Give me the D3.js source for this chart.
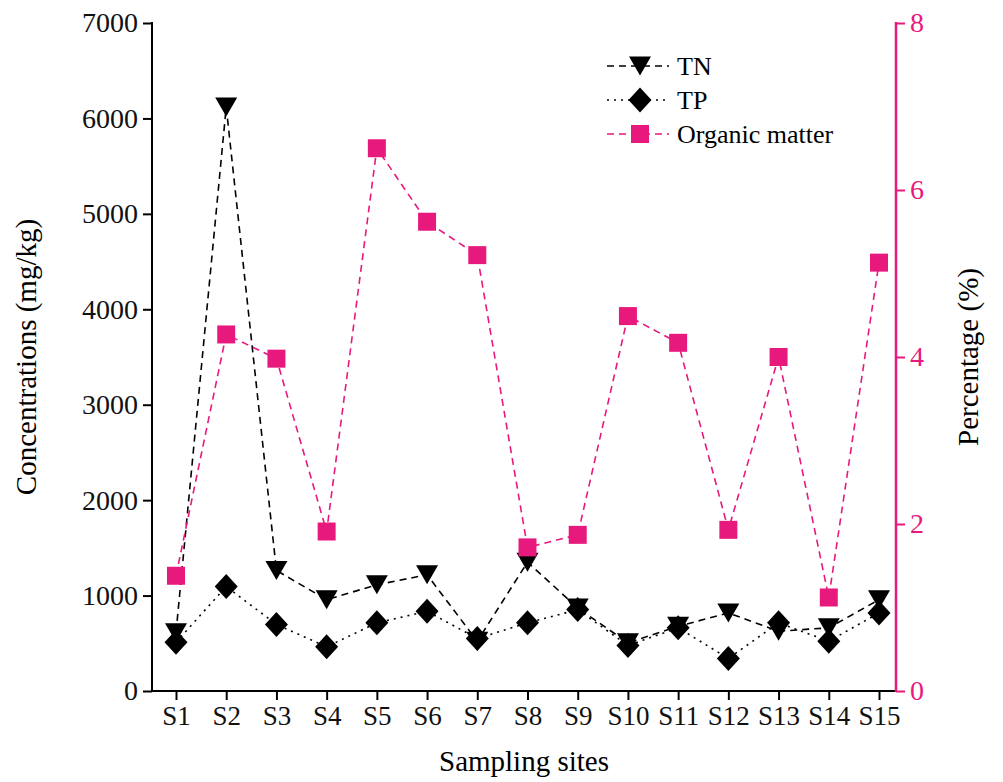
<!DOCTYPE html>
<html>
<head>
<meta charset="utf-8">
<script src="https://cdnjs.cloudflare.com/ajax/libs/d3/7.8.5/d3.min.js"></script>
<style>
  body { margin: 0; background: #fff; }
  svg, svg text { font-family: "Liberation Serif", "Times New Roman", serif; }
</style>
</head>
<body>
<div id="chart"></div>
<script>
// data
var sites = ["S1","S2","S3","S4","S5","S6","S7","S8","S9","S10","S11","S12","S13","S14","S15"];
var tn = [610, 6120, 1263, 957, 1113, 1218, 522, 1350, 870, 505, 678, 818, 626, 662, 957];
var tp = [510, 1095, 697, 463, 714, 835, 550, 714, 853, 477, 662, 341, 714, 522, 818];
var organic = [1.38, 4.27, 3.98, 1.91, 6.50, 5.62, 5.22, 1.72, 1.87, 4.49, 4.17, 1.93, 4.00, 1.12, 5.13];
var leftTicks = [0, 1000, 2000, 3000, 4000, 5000, 6000, 7000];
var rightTicks = [0, 2, 4, 6, 8];

var pink = "#e8197d";
var width = 1003, height = 782;
var plotLeft = 152, plotRight = 896, plotTop = 23, plotBottom = 691;

var svg = d3.select("#chart").append("svg")
    .attr("width", width)
    .attr("height", height);

var x = d3.scalePoint().domain(sites).range([176, 879]);
var yL = d3.scaleLinear().domain([0, 7000]).range([plotBottom, plotTop]);
var yR = d3.scaleLinear().domain([0, 8]).range([plotBottom, plotTop]);

// marker shapes
function triDown(w, h) {
    return "M" + (-w/2) + "," + (-h/2) + "L" + (w/2) + "," + (-h/2) + "L0," + (h/2) + "Z";
}
function diamond(w, h) {
    return "M0," + (-h/2) + "L" + (w/2) + ",0L0," + (h/2) + "L" + (-w/2) + ",0Z";
}
function square(s) {
    return "M" + (-s/2) + "," + (-s/2) + "h" + s + "v" + s + "h" + (-s) + "Z";
}

// axes
var axL = svg.append("g")
    .attr("transform", "translate(" + plotLeft + ",0)")
    .call(d3.axisLeft(yL).tickValues(leftTicks).tickFormat(d3.format("d"))
        .tickSize(9).tickSizeOuter(0).tickPadding(5));
axL.attr("font-family", null).attr("font-size", null);
axL.select(".domain").remove();
axL.selectAll("line").attr("stroke-width", 2);
axL.selectAll("text").style("font-size", "28px").attr("fill", "#111");

var axR = svg.append("g")
    .attr("transform", "translate(" + plotRight + ",0)")
    .call(d3.axisRight(yR).tickValues(rightTicks).tickSize(9).tickSizeOuter(0).tickPadding(5));
axR.attr("font-family", null).attr("font-size", null);
axR.select(".domain").remove();
axR.selectAll("line").attr("stroke", pink).attr("stroke-width", 2);
axR.selectAll("text").style("font-size", "28px").attr("fill", pink);

var axB = svg.append("g")
    .attr("transform", "translate(0," + plotBottom + ")")
    .call(d3.axisBottom(x).tickSize(9).tickSizeOuter(0).tickPadding(6));
axB.attr("font-family", null).attr("font-size", null);
axB.select(".domain").remove();
axB.selectAll("line").attr("stroke-width", 2);
axB.selectAll("text").style("font-size", "27px").attr("fill", "#111");

svg.append("line").attr("x1", plotLeft).attr("x2", plotLeft).attr("y1", plotTop - 1).attr("y2", plotBottom + 1)
    .attr("stroke", "#000").attr("stroke-width", 2);
svg.append("line").attr("x1", plotLeft - 1).attr("x2", plotRight).attr("y1", plotBottom).attr("y2", plotBottom)
    .attr("stroke", "#000").attr("stroke-width", 2);
svg.append("line").attr("x1", plotRight).attr("x2", plotRight).attr("y1", plotTop - 1).attr("y2", plotBottom + 1)
    .attr("stroke", pink).attr("stroke-width", 2.5);

// axis titles
svg.append("text")
    .attr("transform", "translate(36," + ((plotTop + plotBottom) / 2) + ") rotate(-90)")
    .attr("text-anchor", "middle")
    .style("font-size", "29px")
    .text("Concentrations (mg/kg)");
svg.append("text")
    .attr("transform", "translate(978," + ((plotTop + plotBottom) / 2) + ") rotate(-90)")
    .attr("text-anchor", "middle")
    .style("font-size", "29px")
    .text("Percentage (%)");
svg.append("text")
    .attr("x", (plotLeft + plotRight) / 2)
    .attr("y", 771)
    .attr("text-anchor", "middle")
    .style("font-size", "29px")
    .text("Sampling sites");

// series
var series = [
    { name: "TN", values: tn, y: yL, color: "#000", dash: "7,5", marker: triDown(22, 19) },
    { name: "TP", values: tp, y: yL, color: "#000", dash: "2,5", marker: diamond(23, 25) },
    { name: "Organic matter", values: organic, y: yR, color: pink, dash: "7,5", marker: square(18) }
];

series.forEach(function (s) {
    var line = d3.line()
        .x(function (d, i) { return x(sites[i]); })
        .y(function (d) { return s.y(d); });
    svg.append("path")
        .datum(s.values)
        .attr("d", line)
        .attr("fill", "none")
        .attr("stroke", s.color)
        .attr("stroke-width", 1.6)
        .attr("stroke-dasharray", s.dash);
});

series.forEach(function (s) {
    svg.append("g").selectAll("path")
        .data(s.values)
        .enter().append("path")
        .attr("d", s.marker)
        .attr("transform", function (d, i) { return "translate(" + x(sites[i]) + "," + s.y(d) + ")"; })
        .attr("fill", s.color);
});

// legend
var legend = svg.append("g").attr("transform", "translate(607,66)");
series.forEach(function (s, i) {
    var g = legend.append("g").attr("transform", "translate(0," + (i * 34) + ")");
    g.append("line").attr("x1", 0).attr("x2", 62).attr("y1", 0).attr("y2", 0)
        .attr("stroke", s.color).attr("stroke-width", 1.6).attr("stroke-dasharray", s.dash);
    g.append("path").attr("d", s.marker).attr("transform", "translate(33,0)").attr("fill", s.color);
    g.append("text").attr("x", 70).attr("y", 9)
        .style("font-size", "26px")
        .text(s.name);
});
</script>
</body>
</html>
